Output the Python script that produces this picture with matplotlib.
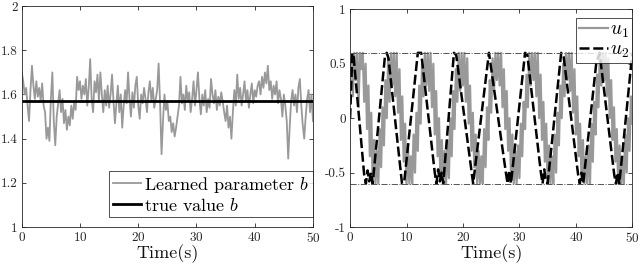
import matplotlib
matplotlib.use("Agg")
import matplotlib.pyplot as plt
import numpy as np

plt.rcParams['font.family'] = ['cmr10', 'DejaVu Serif']
plt.rcParams['mathtext.fontset'] = 'cm'
plt.rcParams['axes.unicode_minus'] = False
plt.rcParams['axes.formatter.use_mathtext'] = True

# ---- data ----
# left panel: learned parameter b, one value every 0.25 s
t_b = np.arange(0, 50.01, 0.25)
b_learned = [
    1.70, 1.66, 1.60, 1.63, 1.55, 1.48, 1.62, 1.73, 1.64, 1.58,
    1.66, 1.59, 1.63, 1.57, 1.65, 1.55, 1.52, 1.40, 1.45, 1.39,
    1.58, 1.70, 1.48, 1.37, 1.50, 1.56, 1.62, 1.52, 1.58, 1.47,
    1.53, 1.44, 1.50, 1.46, 1.55, 1.49, 1.57, 1.53, 1.68, 1.62,
    1.66, 1.58, 1.64, 1.60, 1.67, 1.55, 1.63, 1.76, 1.58, 1.52,
    1.66, 1.61, 1.69, 1.57, 1.70, 1.60, 1.52, 1.62, 1.55, 1.64,
    1.54, 1.60, 1.69, 1.57, 1.47, 1.56, 1.64, 1.52, 1.60, 1.45,
    1.55, 1.62, 1.56, 1.70, 1.58, 1.50, 1.61, 1.54, 1.64, 1.68,
    1.55, 1.49, 1.60, 1.56, 1.63, 1.58, 1.52, 1.61, 1.66, 1.57,
    1.63, 1.54, 1.58, 1.62, 1.74, 1.56, 1.33, 1.48, 1.60, 1.53,
    1.57, 1.48, 1.50, 1.43, 1.47, 1.41, 1.45, 1.50, 1.55, 1.68,
    1.56, 1.60, 1.53, 1.64, 1.57, 1.61, 1.52, 1.58, 1.66, 1.55,
    1.62, 1.70, 1.58, 1.51, 1.60, 1.55, 1.62, 1.52, 1.58, 1.54,
    1.67, 1.60, 1.56, 1.62, 1.53, 1.59, 1.55, 1.61, 1.57, 1.52,
    1.48, 1.55, 1.45, 1.50, 1.40, 1.52, 1.62, 1.55, 1.69, 1.58,
    1.63, 1.55, 1.60, 1.66, 1.57, 1.62, 1.54, 1.60, 1.65, 1.56,
    1.62, 1.59, 1.64, 1.66, 1.60, 1.68, 1.63, 1.70, 1.65, 1.73,
    1.62, 1.66, 1.58, 1.64, 1.60, 1.66, 1.56, 1.62, 1.58, 1.50,
    1.60, 1.55, 1.48, 1.31, 1.45, 1.57, 1.62, 1.55, 1.60, 1.52,
    1.63, 1.67, 1.55, 1.46, 1.40, 1.50, 1.58, 1.62, 1.52, 1.60,
    1.48,
]
b_true = 1.5708

# right panel: u1 every 0.25 s, u2 as the corners of its trace
t_u1 = np.arange(0, 50.01, 0.25)
u1 = [
    0.40, 0.55, 0.20, 0.60, 0.35, 0.60, 0.10, 0.60, 0.45, 0.60,
    0.15, 0.50, -0.10, 0.30, -0.35, 0.05, -0.60, -0.20, -0.60, -0.30,
    -0.60, -0.10, -0.45, 0.10, -0.25, 0.35, 0.00, 0.55, 0.15, 0.60,
    0.30, 0.60, 0.20, 0.60, 0.05, 0.45, -0.20, 0.20, -0.40, -0.05,
    -0.60, -0.25, -0.60, -0.35, -0.60, -0.15, -0.50, 0.05, -0.30, 0.30,
    -0.05, 0.50, 0.20, 0.60, 0.30, 0.60, 0.25, 0.60, 0.10, 0.50,
    -0.15, 0.25, -0.35, 0.00, -0.55, -0.20, -0.60, -0.30, -0.60, -0.20,
    -0.55, 0.00, -0.35, 0.25, -0.10, 0.45, 0.15, 0.60, 0.25, 0.60,
    0.30, 0.60, 0.15, 0.55, -0.05, 0.30, -0.30, 0.05, -0.45, -0.15,
    -0.60, -0.30, -0.60, -0.35, -0.60, -0.10, -0.45, 0.10, -0.20, 0.35,
    0.05, 0.55, 0.25, 0.60, 0.35, 0.60, 0.30, 0.60, 0.10, 0.45,
    -0.10, 0.25, -0.30, 0.00, -0.50, -0.15, -0.60, -0.30, -0.60, -0.25,
    -0.55, -0.05, -0.35, 0.15, -0.10, 0.40, 0.10, 0.60, 0.30, 0.60,
    0.35, 0.60, 0.20, 0.60, 0.00, 0.40, -0.20, 0.15, -0.40, -0.05,
    -0.60, -0.25, -0.60, -0.35, -0.60, -0.15, -0.50, 0.05, -0.25, 0.30,
    0.00, 0.50, 0.20, 0.60, 0.35, 0.60, 0.25, 0.60, 0.05, 0.45,
    -0.15, 0.20, -0.35, -0.05, -0.55, -0.20, -0.60, -0.35, -0.60, -0.25,
    -0.60, -0.05, -0.40, 0.15, -0.15, 0.40, 0.10, 0.60, 0.30, 0.60,
    0.35, 0.60, 0.20, 0.55, 0.00, 0.35, -0.20, 0.10, -0.40, -0.10,
    -0.60, -0.25, -0.60, -0.35, -0.60, -0.15, -0.50, 0.00, -0.30, 0.20,
    -0.05,
]
t_u2 = [0, 0.4, 0.6, 2.5, 2.8, 3.1, 3.4, 3.7, 4.0, 6.2, 6.5, 6.8, 9.2, 9.6,
        12.0, 12.6, 15.0, 15.3, 15.6, 15.9, 16.2, 16.5, 18.4, 18.8, 21.8,
        24.6, 27.6, 27.9, 28.2, 28.5, 31.0, 31.4, 33.8, 34.1, 34.4, 34.7,
        35.0, 37.4, 37.8, 40.4, 40.7, 41.0, 41.3, 43.6, 44.2, 46.8, 47.1,
        47.4, 47.7, 50.0]
u2 = [0.0, 0.6, 0.58, -0.52, -0.6, -0.48, -0.58, -0.5, -0.6, 0.58, 0.6, 0.55,
      -0.6, -0.58, 0.6, 0.6, -0.5, -0.6, -0.47, -0.58, -0.5, -0.6, 0.6, 0.58,
      -0.6, 0.6, -0.5, -0.6, -0.48, -0.6, 0.6, 0.58, -0.5, -0.6, -0.47, -0.58,
      -0.6, 0.6, 0.58, -0.52, -0.6, -0.5, -0.6, 0.5, 0.6, -0.52, -0.6, -0.5,
      -0.6, 0.6]
u_bound = 0.6

fig = plt.figure(figsize=(6.4, 2.65), dpi=100)
ax1 = fig.add_axes([0.034, 0.143, 0.455, 0.834])
ax2 = fig.add_axes([0.547, 0.143, 0.441, 0.822])

edge = '#262626'
for ax in (ax1, ax2):
    ax.tick_params(direction='in', top=True, right=True, length=3, width=0.6,
                   labelsize=9.5, colors=edge, pad=3)
    for s in ax.spines.values():
        s.set_linewidth(0.6)
        s.set_color(edge)
    ax.set_xlim(0, 50)
    ax.set_xticks([0, 10, 20, 30, 40, 50])
    ax.set_xlabel('Time(s)', fontsize=13, labelpad=-1, color='#111111')

ax1.plot(t_b, b_learned, color='#999999', lw=1.3, label='Learned parameter $b$')
ax1.axhline(b_true, color='black', lw=2, label='true value $b$')
ax1.set_ylim(1, 2)
ax1.set_yticks([1, 1.2, 1.4, 1.6, 1.8, 2])
ax1.set_yticklabels(['1', '1.2', '1.4', '1.6', '1.8', '2'])
leg1 = ax1.legend(loc='lower right', bbox_to_anchor=(1.0, 0.045), fontsize=13,
                  frameon=True, fancybox=False, handlelength=1.6,
                  handletextpad=0.15, borderpad=0.2, labelspacing=0.1,
                  borderaxespad=0)
leg1.get_frame().set_edgecolor('black')
leg1.get_frame().set_linewidth(0.6)

ax2.plot(t_u1, u1, color='#999999', lw=1.6, label='$u_1$')
ax2.plot(t_u2, u2, color='black', lw=1.8, linestyle=(0, (4, 1.5)), label='$u_2$')
ax2.axhline(u_bound, color='#555555', lw=0.7, linestyle='-.')
ax2.axhline(-u_bound, color='#555555', lw=0.7, linestyle='-.')
ax2.set_ylim(-1, 1)
ax2.set_yticks([-1, -0.5, 0, 0.5, 1])
ax2.set_yticklabels(['-1', '-0.5', '0', '0.5', '1'])
leg2 = ax2.legend(loc='upper right', bbox_to_anchor=(1.0, 0.96), fontsize=14,
                  frameon=True, fancybox=False, handlelength=1.5,
                  handletextpad=0.1, borderpad=0.15, labelspacing=0.05,
                  borderaxespad=0)
leg2.get_frame().set_edgecolor('black')
leg2.get_frame().set_linewidth(0.6)

fig.savefig('out.png', dpi=100)
